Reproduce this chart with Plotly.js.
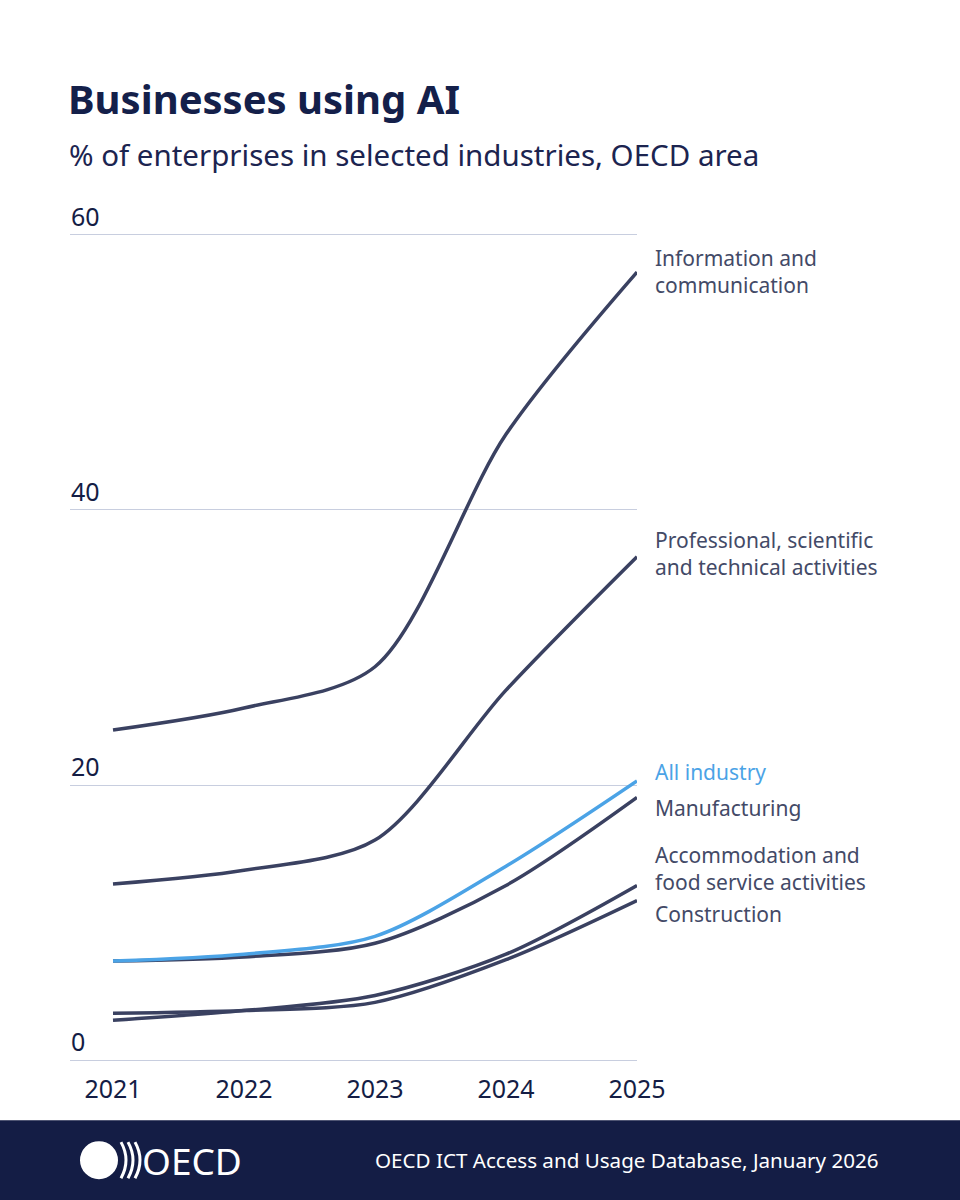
<!DOCTYPE html>
<html>
<head>
<meta charset="utf-8">
<script src="https://cdn.plot.ly/plotly-3.0.1.min.js"></script>
<style>html,body{margin:0;padding:0;background:#fff;}#chart{width:960px;height:1200px;}</style>
</head>
<body>
<div id="chart"></div>
<script>
// ---- data ----
const years = [2021, 2022, 2023, 2024, 2025];
const infoComm = [24.0, 25.6, 28.6, 45.5, 57.3];
const professional = [12.8, 13.8, 16.0, 26.9, 36.6];
const allIndustry = [7.2, 7.7, 9.0, 14.1, 20.3];
const manufacturing = [7.2, 7.5, 8.5, 12.7, 19.1];
const accommodation = [2.9, 3.6, 4.7, 7.7, 12.7];
const construction = [3.4, 3.6, 4.2, 7.3, 11.6];
const yTicks = [0, 20, 40, 60];
const xTicks = ['2021', '2022', '2023', '2024', '2025'];

const titleText = 'Businesses using AI';
const subtitleText = '% of enterprises in selected industries, OECD area';
const sourceText = 'OECD ICT Access and Usage Database, January 2026';
const seriesLabels = [
  'Information and<br>communication',
  'Professional, scientific<br>and technical activities',
  'All industry',
  'Manufacturing',
  'Accommodation and<br>food service activities',
  'Construction'
];

// ---- layout helpers (pixel -> paper) ----
const W = 960, H = 1200;
const Y0 = -0.5, Y1 = 64.5;           // axis range
const PX_PER_UNIT = 825 / 60;          // 0 -> 1060px, 60 -> 235px
const L = 70, R = 637;
const B = 1060 - Y0 * PX_PER_UNIT;     // bottom of plot area (px)
const T = 1060 - Y1 * PX_PER_UNIT;     // top of plot area (px)
const px = x => (x - L) / (R - L);
const py = y => (B - y) / (B - T);

const DARK = '#3a4161';
const BLUE = '#4ba3e6';
const NAVY = '#141d45';
const LABEL = '#434a67';

function tr(name, y, color) {
  return {
    x: years, y: y, name: name, type: 'scatter', mode: 'lines',
    line: {color: color, width: 3.5, shape: 'spline', smoothing: 0.85},
    cliponaxis: false, hoverinfo: 'skip'
  };
}
const data = [
  tr('Information and communication', infoComm, DARK),
  tr('Professional, scientific and technical activities', professional, DARK),
  tr('Manufacturing', manufacturing, DARK),
  tr('Accommodation and food service activities', accommodation, DARK),
  tr('Construction', construction, DARK),
  tr('All industry', allIndustry, BLUE)
];

const labelY = [272, 554, 772, 808, 868, 914];
const labelColors = [LABEL, LABEL, BLUE, LABEL, LABEL, LABEL];
const annotations = seriesLabels.map((t, i) => ({
  xref: 'paper', yref: 'paper', x: px(653), y: py(labelY[i]),
  xanchor: 'left', yanchor: 'middle', align: 'left', showarrow: false, text: t,
  font: {family: 'Noto Sans', size: 21, color: labelColors[i]}
}));
annotations.push({
  xref: 'paper', yref: 'paper', x: px(67), y: py(155), xanchor: 'left', yanchor: 'middle',
  showarrow: false, text: subtitleText,
  font: {family: 'Noto Sans', size: 29.5, color: '#1c2450'}
});
annotations.push({
  xref: 'paper', yref: 'paper', x: px(881), y: py(1160), xanchor: 'right', yanchor: 'middle',
  showarrow: false, text: sourceText,
  font: {family: 'Noto Sans', size: 20.6, color: '#ffffff'}
});
annotations.push({
  xref: 'paper', yref: 'paper', x: px(140), y: py(1160), xanchor: 'left', yanchor: 'middle',
  showarrow: false, text: 'OECD',
  font: {family: 'Noto Sans', size: 37, color: '#ffffff'}
});

const shapes = [
  {type: 'rect', xref: 'paper', yref: 'paper', x0: px(-5), x1: px(W + 5), y0: py(1120), y1: py(H + 10),
   fillcolor: NAVY, line: {width: 0}, layer: 'above'},
  {type: 'circle', xref: 'paper', yref: 'paper', x0: px(80), x1: px(118), y0: py(1141), y1: py(1179),
   fillcolor: '#ffffff', line: {width: 0}, layer: 'above'}
];
[121, 128, 135].forEach(x => {
  const a = `${px(x)},${py(1142)}`;
  const c = `${px(x + 10)},${py(1160)}`;
  const b = `${px(x)},${py(1178)}`;
  shapes.push({type: 'path', xref: 'paper', yref: 'paper', path: `M ${a} Q ${c} ${b}`,
    line: {color: '#ffffff', width: 3}, layer: 'above'});
});

const layout = {
  width: W, height: H,
  margin: {l: L, r: W - R, t: T, b: H - B, pad: 0},
  paper_bgcolor: '#ffffff', plot_bgcolor: 'rgba(0,0,0,0)',
  showlegend: false,
  title: {
    text: '<b>' + titleText + '</b>', x: 68 / W, xanchor: 'left', xref: 'container',
    y: 1 - 100 / H, yanchor: 'middle', yref: 'container',
    font: {family: 'Noto Sans', size: 40, color: '#14204a'}
  },
  xaxis: {
    range: [2021 - 43 / 131, 2025], tickvals: years, ticktext: xTicks,
    showgrid: false, zeroline: false, showline: false, ticks: '',
    tickfont: {family: 'Noto Sans', size: 25, color: '#141d45'}, ticklabelstandoff: 5,
    fixedrange: true
  },
  yaxis: {
    range: [Y0, Y1], tickvals: yTicks, ticktext: yTicks.map(String),
    showgrid: true, gridcolor: '#c8cedf', gridwidth: 1, zeroline: false, showline: false, ticks: '',
    ticklabelposition: 'inside top', ticklabelstandoff: -2,
    tickfont: {family: 'Noto Sans', size: 25, color: '#141d45'},
    fixedrange: true
  },
  annotations: annotations,
  shapes: shapes
};

Plotly.newPlot('chart', data, layout, {displayModeBar: false, staticPlot: true});
</script>
</body>
</html>
